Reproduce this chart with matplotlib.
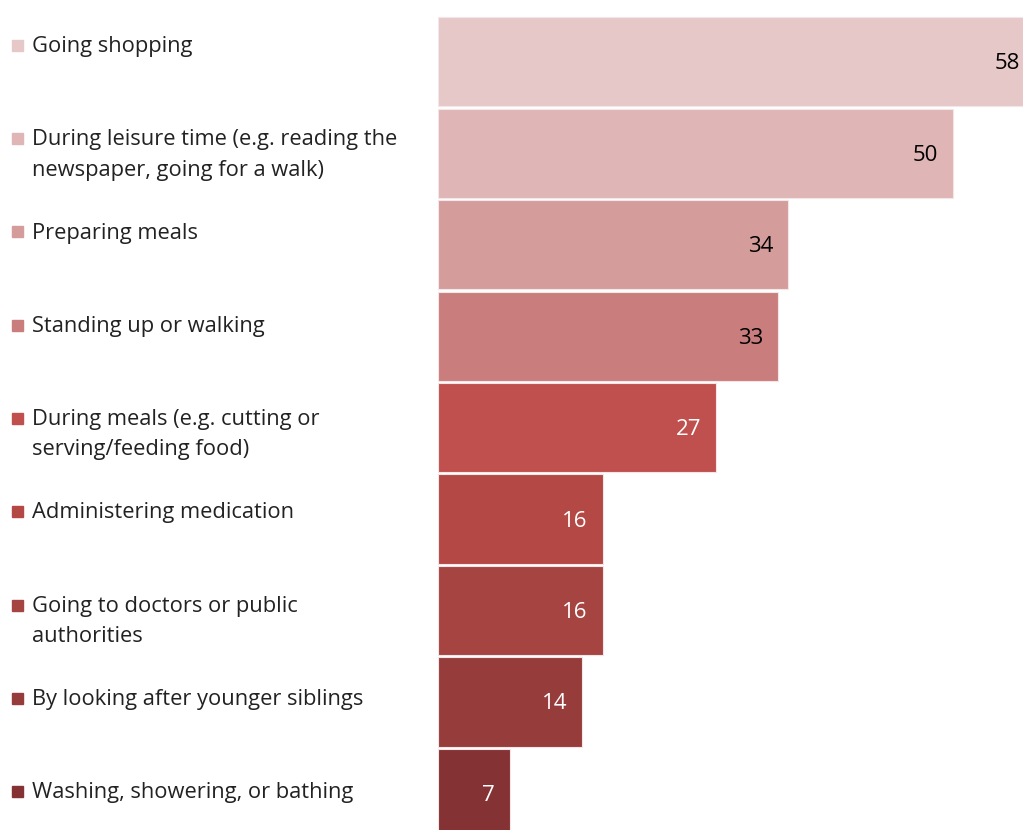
import matplotlib.pyplot as plt
import numpy as np

# survey answers, top to bottom
labels = [
    "Going shopping",
    "During leisure time (e.g. reading the\nnewspaper, going for a walk)",
    "Preparing meals",
    "Standing up or walking",
    "During meals (e.g. cutting or\nserving/feeding food)",
    "Administering medication",
    "Going to doctors or public\nauthorities",
    "By looking after younger siblings",
    "Washing, showering, or bathing",
]
values = [58, 50, 34, 33, 27, 16, 16, 14, 7]
colors = ["#E6C8C9", "#DFB5B5", "#D49C9B", "#C97D7C", "#C0504D",
          "#B34844", "#A64441", "#963C3B", "#853234"]
text_colors = ["black"] * 4 + ["white"] * 5

plt.rcParams['font.family'] = ['Open Sans', 'DejaVu Sans']

W, H = 1023, 830
fig = plt.figure(figsize=(W / 100, H / 100), dpi=100)
ax = fig.add_axes([438 / W, 0, 1 - 438 / W, 1 - 16 / H])

y = np.arange(len(values))
ax.barh(y, values, height=0.975, color=colors, edgecolor="#F3E6E6", linewidth=0.8)
ax.set_ylim(8.40, -0.5)
ax.set_xlim(0, 56.8)
ax.axis("off")

for yi, v, tc in zip(y, values, text_colors):
    ax.annotate(str(v), (v, yi), xytext=(-15, -2), textcoords="offset pixels",
                ha="right", va="center", fontsize=16, color=tc,
                annotation_clip=False)

# category list on the left with small colour squares
for i, (lab, c) in enumerate(zip(labels, colors)):
    yc = 1 - (45 + i * 93.25) / H
    fig.patches.append(plt.Rectangle((12 / W, yc - 6 / H), 11 / W, 11 / H,
                                     transform=fig.transFigure, color=c))
    fig.text(32 / W, yc + 9 / H, lab, ha="left", va="top", fontsize=15.75,
             color="#222222", linespacing=1.58)

fig.savefig("out.png", dpi=100)
